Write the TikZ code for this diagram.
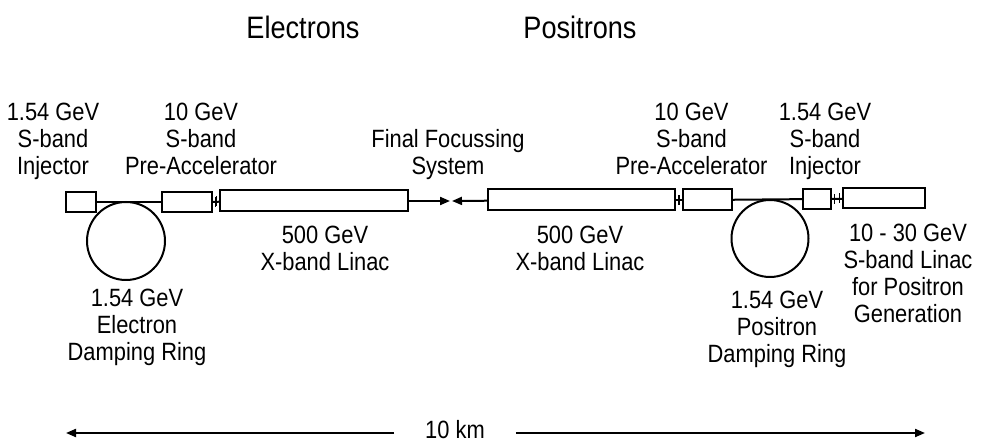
\documentclass[tikz,border=0pt]{standalone}
\usepackage{fontspec}
\setmainfont{Liberation Sans}[FakeStretch=0.875]
\usetikzlibrary{arrows.meta,positioning}

\tikzset{
  box/.style={draw, rectangle, inner sep=0pt, minimum height=20pt},
  ring/.style={draw, circle, inner sep=0pt},
  flange/.style={line width=1.3pt},
  lbl/.style={align=center, inner sep=0pt, anchor=north, font=\fontsize{25}{27}\selectfont},
  ttl/.style={inner sep=0pt, font=\fontsize{31}{34}\selectfont},
  tip/.style={-{Triangle[length=10pt, width=8pt]}}
}

\begin{document}
\begin{tikzpicture}[x=1pt, y=-1pt, line width=2pt]
    \useasboundingbox (0,0) rectangle (994,446);
    % titles
    \node[ttl] (eltitle) at (303,27) {Electrons};
    \node[ttl] (potitle) at (580,27) {Positrons};
    % electron side
    \node[box, minimum width=30pt] (einj) at (81,202) {};
    \node[box, minimum width=50pt] (epre) at (187,202) {};
    \node[box, minimum width=188pt, minimum height=21pt] (elinac) at (314,201) {};
    \node[ring, minimum size=78pt] (ering) at (126,241) {};
    \draw (einj) -- (epre);
    \draw (epre) -- (elinac);
    \draw[flange] ([xshift=2.5pt]epre.east) ++(0,-5) -- ++(0,10);
    \draw[flange] ([xshift=-2.5pt]elinac.west) ++(0,-5) -- ++(0,10);
    % final focus
    \coordinate (ip) at (451,201);
    % positron side
    \node[box, minimum width=187pt, minimum height=21pt] (plinac) at (581.5,200) {};
    \node[box, minimum width=49pt, minimum height=21pt] (ppre) at (707.5,200) {};
    \node[box, minimum width=28pt] (pinj) at (817,199) {};
    \node[box, minimum width=82pt] (plin) at (884,198.5) {};
    \node[ring, minimum size=77pt] (pring) at (770,238.5) {};
    \draw[tip] (elinac) -- ([xshift=-1pt]ip);
    \draw[tip] (plinac) -- ([xshift=1pt]ip);
    \draw (plinac) -- (ppre);
    \draw[flange] ([xshift=2.5pt]plinac.east) ++(0,-5) -- ++(0,10);
    \draw[flange] ([xshift=-2.5pt]ppre.west) ++(0,-5) -- ++(0,10);
    \draw (ppre) -- (pinj);
    \draw (pinj) -- (plin);
    \draw[flange] ([xshift=2.5pt]pinj.east) ++(0,-5) -- ++(0,10);
    \draw[flange] ([xshift=-2.5pt]plin.west) ++(0,-5) -- ++(0,10);
    % labels
    \node[lbl] (einjlbl) at (53,102) {1.54 GeV\\S-band\\Injector};
    \node[lbl] (eprelbl) at (201,102) {10 GeV\\S-band\\Pre-Accelerator};
    \node[lbl] (fflbl) at (448,128) {Final Focussing\\System};
    \node[lbl] (pprelbl) at (691.5,102) {10 GeV\\S-band\\Pre-Accelerator};
    \node[lbl] (pinjlbl) at (825,102) {1.54 GeV\\S-band\\Injector};
    \node[lbl] (elinaclbl) at (325,225) {500 GeV\\X-band Linac};
    \node[lbl] (plinaclbl) at (580,225) {500 GeV\\X-band Linac};
    \node[lbl] (eringlbl) at (137,288) {1.54 GeV\\Electron\\Damping Ring};
    \node[lbl] (pringlbl) at (777,290) {1.54 GeV\\Positron\\Damping Ring};
    \node[lbl] (plinlbl) at (908,223) {10 - 30 GeV\\S-band Linac\\for Positron\\Generation};
    % length scale
    \coordinate (leftend) at (66,433);
    \coordinate (rightend) at (925,433);
    \node[lbl, anchor=center, inner xsep=30pt] (dist) at (455,430) {10 km};
    \draw[tip] (dist.west |- leftend) -- (leftend);
    \draw[tip] (dist.east |- rightend) -- (rightend);
\end{tikzpicture}
\end{document}
